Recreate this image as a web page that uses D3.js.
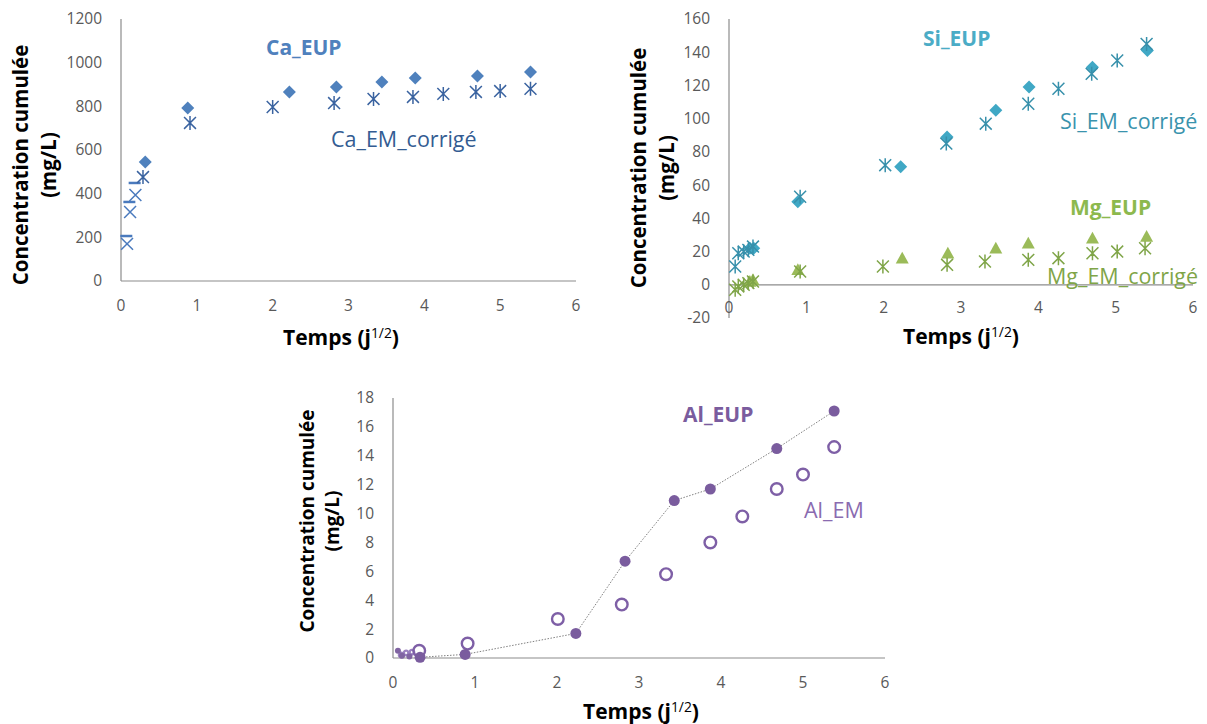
<!DOCTYPE html>
<html><head><meta charset="utf-8">
<script src="https://cdn.jsdelivr.net/npm/d3@7"></script>
<style>
body{margin:0;background:#fff;}
svg{display:block;font-family:"Open Sans","Noto Sans",sans-serif;}
</style></head>
<body><svg id="c" width="1207" height="724"></svg>
<script>
// ---------- DATA ----------
const xTicks = [0,1,2,3,4,5,6];
// Ca chart
const caTicks = [0,200,400,600,800,1000,1200];
const caEUP_x = [0.32,0.88,2.22,2.84,3.44,3.88,4.70,5.40];
const caEUP_y = [545,792,866,889,912,930,939,957];
const caEM_x = [0.29,0.91,2.00,2.81,3.33,3.85,4.25,4.68,5.00,5.40];
const caEM_y = [476,724,797,815,834,843,857,866,870,880];
const caX_x = [0.08,0.12,0.19];
const caX_y = [170,316,394];
const caDash_x = [0.07,0.11,0.18];
const caDash_y = [206,362,449];
// Si / Mg chart
const siTicks = [-20,0,20,40,60,80,100,120,140,160];
const siEUP_x = [0.27,0.32,0.89,2.22,2.82,3.45,3.88,4.70,5.41];
const siEUP_y = [22,22,50,71,89,105,119,131,141];
const siEM_x = [0.08,0.12,0.19,0.25,0.31,0.92,2.02,2.81,3.32,3.87,4.26,4.69,5.02,5.40];
const siEM_y = [11,19,20,21,23,53,72,85,97,109,118,127,135,145];
const mgEUP_x = [0.27,0.31,0.89,2.24,2.83,3.45,3.87,4.70,5.40];
const mgEUP_y = [2,3,9,16,19,22,25,28,29];
const mgEM_x = [0.08,0.12,0.19,0.25,0.31,0.92,1.99,2.82,3.31,3.87,4.26,4.70,5.02,5.38];
const mgEM_y = [-3,-1,0,1,2,8,11,12,14,15,16,19,20,22];
// Al chart
const alTicks = [0,2,4,6,8,10,12,14,16,18];
const alEUP_x = [0.33,0.88,2.23,2.83,3.43,3.87,4.68,5.38];
const alEUP_y = [0.05,0.25,1.7,6.7,10.9,11.7,14.5,17.1];
const alEM_x = [0.32,0.91,2.01,2.79,3.33,3.87,4.26,4.68,5.00,5.38];
const alEM_y = [0.5,1.0,2.7,3.7,5.8,8.0,9.8,11.7,12.7,14.6];
const alSmallFill_x = [0.06,0.11,0.20];
const alSmallFill_y = [0.5,0.15,0.1];
const alSmallOpen_x = [0.10,0.16,0.23];
const alSmallOpen_y = [0.2,0.35,0.4];

const zip = (xs,ys)=>xs.map((x,i)=>({x,y:ys[i]}));

const svg = d3.select("#c");
const TICK_COLOR = "#595959", AXIS_COLOR = "#8c8c8c";

function marker(g, pts, xs, ys, type, color, size){
  const s = size/2;
  const sel = g.append("g").selectAll("path").data(pts).join("path")
    .attr("transform", d=>`translate(${xs(d.x)},${ys(d.y)})`);
  if(type==="diamond"){
    sel.attr("d",`M0,${-s}L${s},0L0,${s}L${-s},0Z`).attr("fill",color);
  } else if(type==="triangle"){
    sel.attr("d",`M0,${-s}L${s},${s*0.8}L${-s},${s*0.8}Z`).attr("fill",color);
  } else if(type==="star"){
    const a=s*0.85;
    sel.attr("d",`M${-a},${-a}L${a},${a}M${-a},${a}L${a},${-a}M0,${-s}L0,${s}`)
      .attr("stroke",color).attr("stroke-width",1.5).attr("fill","none");
  } else if(type==="x"){
    const a=s*0.85;
    sel.attr("d",`M${-a},${-a}L${a},${a}M${-a},${a}L${a},${-a}`)
      .attr("stroke",color).attr("stroke-width",1.5).attr("fill","none");
  } else if(type==="dash"){
    sel.attr("d",`M${-s},0L${s},0`).attr("stroke",color).attr("stroke-width",2.5).attr("fill","none");
  } else if(type==="circle"){
    sel.attr("d",d3.arc()({innerRadius:0,outerRadius:s,startAngle:0,endAngle:2*Math.PI})).attr("fill",color);
  } else if(type==="ring"){
    sel.attr("d",d3.arc()({innerRadius:0,outerRadius:s-1.2,startAngle:0,endAngle:2*Math.PI}))
      .attr("fill","none").attr("stroke",color).attr("stroke-width",2.4);
  }
}

function frame(cfg){
  const x = d3.scaleLinear().domain([0,6]).range([cfg.x0,cfg.x1]);
  const y = d3.scaleLinear().domain(cfg.yDomain).range([cfg.yb,cfg.yt]);
  const g = svg.append("g");
  g.append("line").attr("x1",cfg.x0).attr("x2",cfg.x0).attr("y1",cfg.yt).attr("y2",cfg.yb)
    .attr("stroke",AXIS_COLOR).attr("stroke-width",1.2);
  g.append("line").attr("x1",cfg.x0).attr("x2",cfg.x1).attr("y1",y(0)).attr("y2",y(0))
    .attr("stroke",AXIS_COLOR).attr("stroke-width",1.2);
  g.append("g").selectAll("text").data(cfg.yTicks).join("text")
    .attr("x",cfg.x0-19).attr("y",d=>y(d)).attr("dy","0.35em").attr("text-anchor","end")
    .attr("font-size",cfg.tickSize).attr("fill",TICK_COLOR).text(d=>d);
  g.append("g").selectAll("text").data(xTicks).join("text")
    .attr("x",d=>x(d)).attr("y",cfg.xLabY).attr("dy","0.35em").attr("text-anchor","middle")
    .attr("font-size",cfg.tickSize).attr("fill",TICK_COLOR).text(d=>d);
  const t = g.append("text").attr("x",cfg.xtX).attr("y",cfg.xtY).attr("text-anchor","middle")
    .attr("font-size",cfg.xTitleSize).attr("font-weight","bold").attr("fill","#000");
  t.append("tspan").text("Temps (j");
  t.append("tspan").attr("dy",-7).attr("font-size",cfg.xTitleSize*0.66).attr("font-weight","normal").text("1/2");
  t.append("tspan").attr("dy",7).text(")");
  const yt = g.append("g").attr("transform",`translate(${cfg.ytX},${cfg.ytY}) rotate(-90)`);
  yt.append("text").attr("x",0).attr("y",0).attr("text-anchor","middle").attr("font-size",cfg.titleSize)
    .attr("font-weight","bold").attr("fill","#000").text("Concentration cumulée");
  yt.append("text").attr("x",0).attr("y",cfg.ytGap).attr("text-anchor","middle").attr("font-size",cfg.titleSize)
    .attr("font-weight","bold").attr("fill","#000").text("(mg/L)");
  return {x,y,g};
}
function label(g,x,y,text,color,bold,size){
  g.append("text").attr("x",x).attr("y",y).attr("dy","0.35em").attr("font-size",size)
    .attr("font-weight",bold?"bold":"normal").attr("fill",color).text(text);
}

// ---------- Chart 1: Ca ----------
{
  const c = frame({x0:121,x1:576,yDomain:[0,1200],yb:281,yt:19,yTicks:caTicks,xLabY:306,
    xtX:341,xtY:345,ytX:28,ytY:165,ytGap:28,titleSize:20.5,xTitleSize:21,tickSize:15.5});
  marker(c.g, zip(caDash_x,caDash_y), c.x, c.y, "dash", "#4a7abd", 12);
  marker(c.g, zip(caX_x,caX_y), c.x, c.y, "x", "#4a7abd", 14);
  marker(c.g, zip(caEM_x,caEM_y), c.x, c.y, "star", "#3a63a0", 14);
  marker(c.g, zip(caEUP_x,caEUP_y), c.x, c.y, "diamond", "#4f81bd", 13);
  label(c.g,266,48,"Ca_EUP","#4f81bd",true,21);
  label(c.g,331,139,"Ca_EM_corrigé","#335c92",false,21.5);
}
// ---------- Chart 2: Si / Mg ----------
{
  const c = frame({x0:729,x1:1193,yDomain:[-20,160],yb:318,yt:19,yTicks:siTicks,xLabY:308,
    xtX:961,xtY:344,ytX:646,ytY:168,ytGap:28,titleSize:20.5,xTitleSize:21,tickSize:15.5});
  marker(c.g, zip(mgEUP_x,mgEUP_y), c.x, c.y, "triangle", "#9bbb59", 13);
  marker(c.g, zip(mgEM_x,mgEM_y), c.x, c.y, "star", "#7fa548", 14);
  marker(c.g, zip(siEUP_x,siEUP_y), c.x, c.y, "diamond", "#40a8c5", 13);
  marker(c.g, zip(siEM_x,siEM_y), c.x, c.y, "star", "#3790ab", 14);
  label(c.g,923,39,"Si_EUP","#4bacc6",true,21);
  label(c.g,1060,121,"Si_EM_corrigé","#3a93ad",false,21.5);
  label(c.g,1070,208,"Mg_EUP","#8db94e",true,21);
  label(c.g,1047,276,"Mg_EM_corrigé","#7fa548",false,21.5);
}
// ---------- Chart 3: Al ----------
{
  const c = frame({x0:393,x1:885,yDomain:[0,18],yb:658,yt:398,yTicks:alTicks,xLabY:683,
    xtX:641,xtY:719,ytX:314,ytY:521,ytGap:25,titleSize:19,xTitleSize:21,tickSize:15.5});
  const line = d3.line().x(d=>c.x(d.x)).y(d=>c.y(d.y));
  c.g.append("path").attr("d",line(zip(alEUP_x,alEUP_y))).attr("fill","none")
    .attr("stroke","#808080").attr("stroke-width",1).attr("stroke-dasharray","1.5,1.5");
  marker(c.g, zip(alSmallOpen_x,alSmallOpen_y), c.x, c.y, "ring", "#9a80bf", 7);
  marker(c.g, zip(alSmallFill_x,alSmallFill_y), c.x, c.y, "circle", "#8064a2", 6);
  marker(c.g, zip(alEM_x,alEM_y), c.x, c.y, "ring", "#7e5fa6", 14);
  marker(c.g, zip(alEUP_x,alEUP_y), c.x, c.y, "circle", "#7a5c9e", 11);
  label(c.g,683,415,"Al_EUP","#7a5c9e",true,21);
  label(c.g,804,510,"Al_EM","#8a6bb0",false,21.5);
}
</script></body></html>
